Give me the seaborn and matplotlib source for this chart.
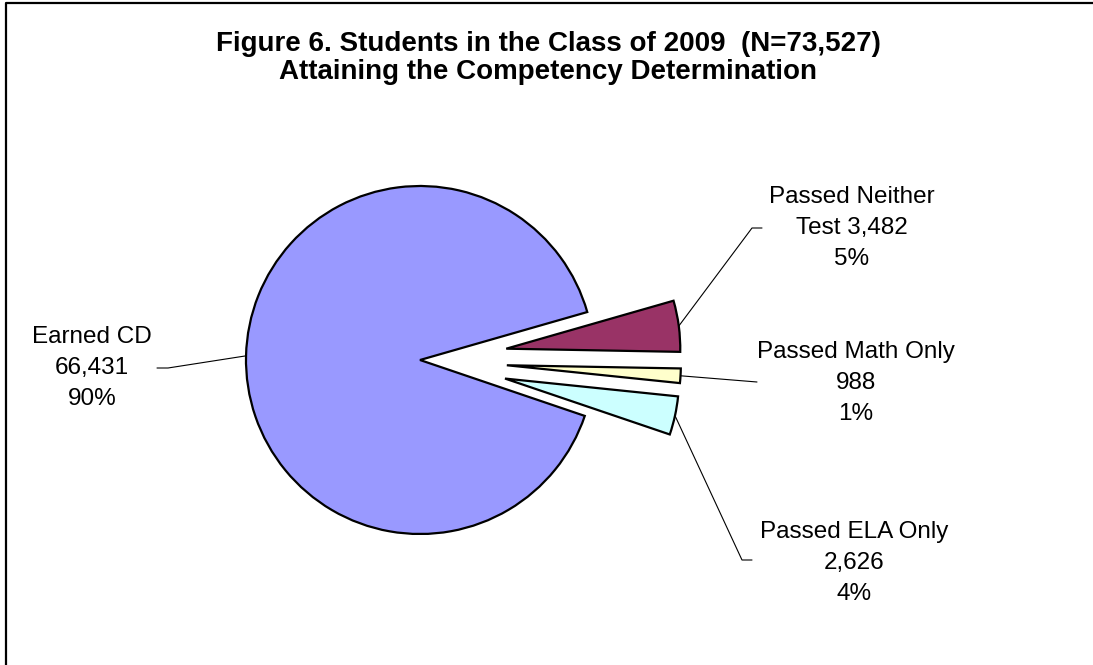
import numpy as np
import matplotlib
matplotlib.use('Agg')
import matplotlib.pyplot as plt
import seaborn as sns

# data
categories = ['Passed Neither Test', 'Passed Math Only', 'Passed ELA Only', 'Earned CD']
label_names = ['Passed Neither\nTest ', 'Passed Math Only\n', 'Passed ELA Only\n', 'Earned CD\n']
counts = [3482, 988, 2626, 66431]
slice_colors = ['#993366', '#FFFFCC', '#CCFFFF', '#9999FF']
title_text = 'Figure 6. Students in the Class of 2009  (N=73,527)\nAttaining the Competency Determination'

W, H = 1093, 665
R = 174
sns.set_theme(style='white')
plt.rcParams['font.family'] = ['Liberation Sans', 'DejaVu Sans']

fig = plt.figure(figsize=(W / 100, H / 100), dpi=100)
ax = fig.add_axes([0, 0, 1, 1])

def py(y):
    # image pixel row -> data y
    return H - y

# small slices pulled out by half a radius (pie uses data units here)
explode = [0.5 * R, 0.5 * R, 0.5 * R, 0.0]
wedges, _ = ax.pie(counts, colors=slice_colors, explode=explode, startangle=16,
                   counterclock=False, radius=R, center=(420, py(360)),
                   wedgeprops=dict(edgecolor='black', linewidth=1.6))

total = sum(counts)
labels = [f'{n}{c:,}\n{round(c / total * 100)}%' for n, c in zip(label_names, counts)]

# label centres, leader elbows and ends (image pixels)
label_pos = [(852, 228), (856, 383), (854, 563), (92, 368)]
elbows = [(752, 228), (757, 382), (742, 560), (168, 368)]
ends = [(762, 228), (757, 382), (752, 560), (157, 368)]

for w, lab, lp, el, en in zip(wedges, labels, label_pos, elbows, ends):
    th = np.deg2rad((w.theta1 + w.theta2) / 2)
    cx, cy = w.center
    p0 = (cx + w.r * np.cos(th), cy + w.r * np.sin(th))
    ax.plot([p0[0], el[0], en[0]], [p0[1], py(el[1]), py(en[1])],
            color='black', lw=0.8, zorder=0)
    ax.text(lp[0], py(lp[1]), lab, ha='center', va='center', fontsize=17.5,
            linespacing=1.55, color='black')

ax.text(548, py(58), title_text, ha='center', va='center', fontsize=20,
        fontweight='bold', linespacing=1.14, color='black')

# chart frame (only left and top edges visible in the crop)
ax.plot([6, 6, W + 10], [-10, py(3), py(3)], color='black', lw=1.6, clip_on=False)

ax.set_xlim(0, W)
ax.set_ylim(0, H)
ax.set_aspect('equal')
ax.set_axis_off()
fig.savefig('out.png', dpi=100, facecolor='white')
